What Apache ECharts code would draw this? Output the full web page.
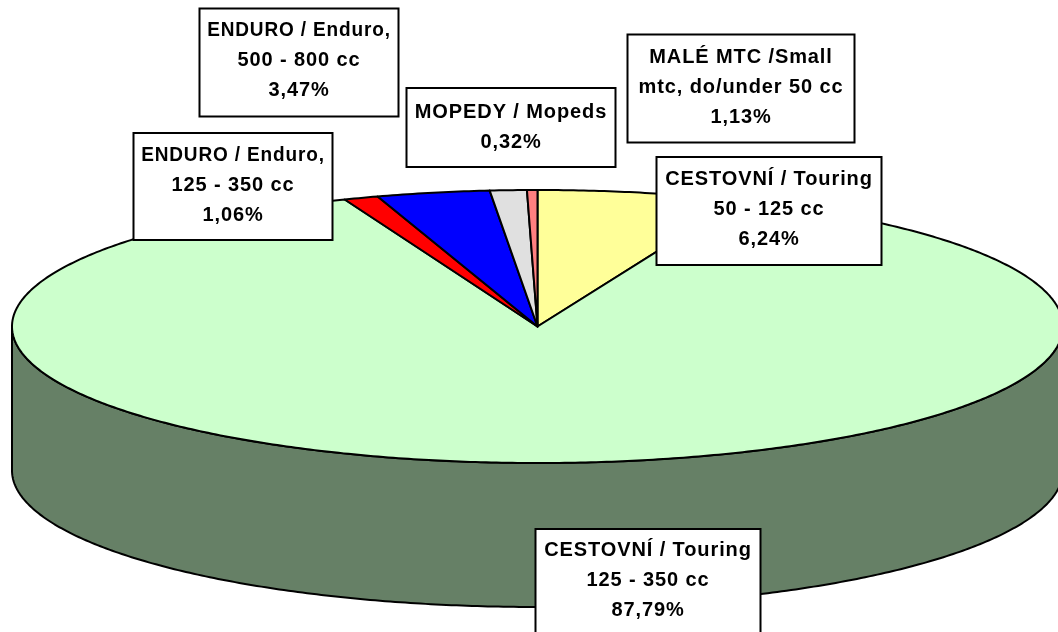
<!DOCTYPE html>
<html>
<head>
<meta charset="utf-8">
<style>html,body{margin:0;padding:0;background:#fff}#c{width:1058px;height:632px}</style>
<script src="https://cdn.jsdelivr.net/npm/echarts@6/dist/echarts.min.js"></script>
</head>
<body>
<div id="c"></div>
<script>
// Data, clockwise from the top of the pie
const categories = ['CESTOVNÍ / Touring 50 - 125 cc', 'CESTOVNÍ / Touring 125 - 350 cc', 'ENDURO / Enduro, 125 - 350 cc', 'ENDURO / Enduro, 500 - 800 cc', 'MALÉ MTC /Small mtc, do/under 50 cc', 'MOPEDY / Mopeds'];
const labelNames = [
  ['CESTOVNÍ / Touring', '50 - 125 cc'],
  ['CESTOVNÍ / Touring', '125 - 350 cc'],
  ['ENDURO / Enduro,', '125 - 350 cc'],
  ['ENDURO / Enduro,', '500 - 800 cc'],
  ['MALÉ MTC /Small', 'mtc, do/under 50 cc'],
  ['MOPEDY / Mopeds']
];
const shares = [6.24, 87.79, 1.06, 3.47, 1.13, 0.32];

// Styles and layout
const sliceColors = ['#ffff99', '#ccffcc', '#ff0000', '#0000ff', '#e0e0e0', '#ff8080'];
const labelBoxes = [
  [656.5, 157, 225, 108, 22],
  [535.5, 529, 225, 108, 21],
  [133.5, 133, 199, 107, 22],
  [199.5, 8.5, 199, 108, 22],
  [627.5, 34.5, 227, 108, 23],
  [406.5, 88, 209, 79, 24]
];
const firstLineStretch = [1, 1, 0.95, 0.95, 1, 1];
const PIE = { cx: 537.5, cy: 326.5, rx: 525.5, ry: 136.5, depth: 144 };
const FONT = 'bold 20px "Liberation Sans", Arial, sans-serif';
const LINE_H = 30;
const LETTER_SPACING = '0.9px';

const total = shares.reduce((a, b) => a + b, 0);
const starts = [];
shares.reduce((acc, v, i) => { starts[i] = acc; return acc + v; }, 0);
const toAngle = v => v / total * Math.PI * 2;
const rimPoint = (t, dy) => [
  PIE.cx + PIE.rx * Math.sin(t),
  PIE.cy - PIE.ry * Math.cos(t) + (dy || 0)
];
function arc(a, b, dy) {
  const n = Math.max(2, Math.ceil((b - a) / 0.01));
  const out = [];
  for (let i = 0; i <= n; i++) out.push(rimPoint(a + (b - a) * i / n, dy));
  return out;
}
function halfShade(hex) {
  const n = parseInt(hex.slice(1), 16);
  const c = s => Math.round(((n >> s) & 255) / 2);
  return 'rgb(' + c(16) + ',' + c(8) + ',' + c(0) + ')';
}
const stroke = { stroke: '#000', lineWidth: 2, lineJoin: 'round' };

function renderSlice(params, api) {
  const i = params.dataIndex;
  const a = toAngle(starts[i]);
  const b = a + toAngle(api.value(0));
  const children = [];
  const wa = Math.max(a, Math.PI / 2), wb = Math.min(b, Math.PI * 1.5);
  if (wb > wa) {
    const top = arc(wa, wb, 0);
    const bottom = arc(wa, wb, PIE.depth).reverse();
    children.push({
      type: 'polygon',
      shape: { points: top.concat(bottom) },
      style: Object.assign({ fill: halfShade(sliceColors[i]) }, stroke)
    });
  }
  children.push({
    type: 'polygon',
    shape: { points: [[PIE.cx, PIE.cy]].concat(arc(a, b, 0)) },
    style: Object.assign({ fill: sliceColors[i] }, stroke)
  });
  return { type: 'group', children };
}

function renderLabel(params, api) {
  const i = params.dataIndex;
  const [x, y, w, h, pad] = labelBoxes[i];
  const lines = labelNames[i].concat([api.value(0).toFixed(2).replace('.', ',') + '%']);
  const children = [{
    type: 'rect',
    shape: { x, y, width: w, height: h },
    style: { fill: '#fff', stroke: '#000', lineWidth: 2 }
  }];
  lines.forEach((t, k) => children.push({
    type: 'text',
    x: x + w / 2,
    y: y + pad + k * LINE_H,
    scaleX: k === 0 ? firstLineStretch[i] : 1,
    style: {
      text: t, x: 0, y: 0,
      align: 'center', verticalAlign: 'middle',
      font: FONT, fill: '#000'
    }
  }));
  return { type: 'group', children };
}

const dataRows = shares.map((v, i) => ({ name: categories[i], value: v }));
const chart = echarts.init(document.getElementById('c'), null, { renderer: 'canvas' });
chart.setOption({
  animation: false,
  backgroundColor: '#fff',
  series: [
    { type: 'custom', coordinateSystem: 'none', renderItem: renderSlice, data: dataRows, silent: true, z: 1 },
    { type: 'custom', coordinateSystem: 'none', renderItem: renderLabel, data: dataRows, silent: true, z: 2 }
  ]
});
// Widen the labels' tracking, which the text style has no option for
const zr = chart.getZr();
zr.flush();
const canvas = document.querySelector('#c canvas');
if (canvas) {
  const ctx = canvas.getContext('2d');
  if ('letterSpacing' in ctx) {
    ctx.letterSpacing = LETTER_SPACING;
    zr.painter.refresh(true);
  }
}
</script>
</body>
</html>
